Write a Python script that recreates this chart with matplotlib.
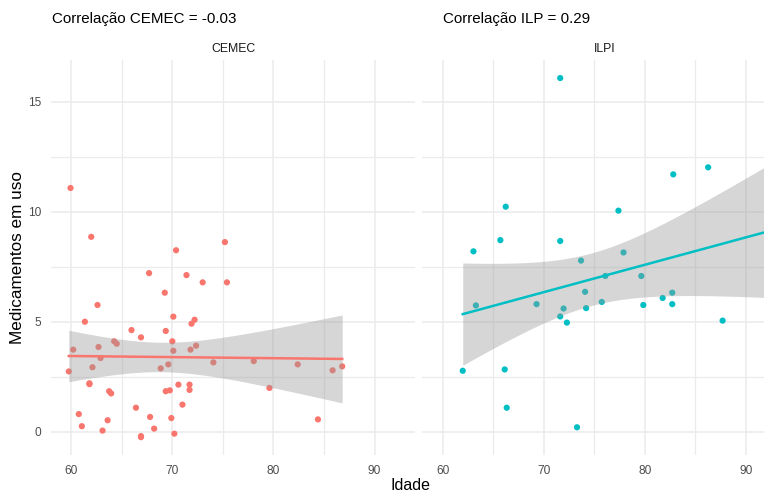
import numpy as np
import matplotlib
matplotlib.use("Agg")
import matplotlib.pyplot as plt
from matplotlib.ticker import MultipleLocator

plt.rcParams['font.family'] = ['Liberation Sans', 'DejaVu Sans']

# ---- data ----
cemec_idade = [70.37, 67.7, 71.4, 73.0, 75.4, 69.25, 62.6, 61.35, 70.1, 72.2, 71.9, 65.96,
               69.35, 66.9, 64.25, 64.5, 62.7, 60.2, 70.0, 70.1, 71.8, 72.35, 62.9, 62.1,
               59.76, 68.85, 69.6, 74.06, 61.8, 61.8, 70.6, 71.7, 71.7, 69.35, 69.75, 63.75,
               63.95, 71.0, 66.4, 60.75, 67.8, 69.9, 61.05, 63.6, 68.2, 63.1, 70.2, 66.9,
               66.9, 59.93, 61.98, 75.2, 78.05, 79.6, 82.4, 84.4, 85.85, 86.8]
cemec_med = [8.25, 7.21, 7.12, 6.79, 6.79, 6.32, 5.76, 5.0, 5.23, 5.09, 4.91, 4.62,
             4.58, 4.29, 4.11, 4.0, 3.85, 3.73, 4.11, 3.68, 3.73, 3.91, 3.35, 2.93,
             2.74, 2.88, 3.06, 3.15, 2.2, 2.16, 2.14, 2.14, 1.9, 1.84, 1.88, 1.84,
             1.74, 1.23, 1.09, 0.8, 0.67, 0.62, 0.25, 0.52, 0.14, 0.05, -0.09, -0.25,
             -0.2, 11.08, 8.86, 8.62, 3.21, 1.99, 3.06, 0.56, 2.79, 2.97]

# the last ILPI point lies beyond the cropped right edge (implied by the axis
# range and by the smoother reaching the edge); its value is estimated
ilpi_idade = [63.06, 66.25, 65.72, 71.64, 71.64, 73.7, 82.82, 86.27, 77.4, 77.9, 63.3, 69.3,
              71.97, 71.64, 72.3, 74.1, 74.2, 62.0, 66.15, 66.35, 73.3, 76.1, 79.66, 82.72,
              81.77, 82.72, 75.75, 79.86, 87.7, 92.4]
ilpi_med = [8.2, 10.23, 8.71, 16.08, 8.67, 7.78, 11.7, 12.02, 10.05, 8.15, 5.74, 5.8,
            5.6, 5.24, 4.96, 6.36, 5.62, 2.77, 2.83, 1.09, 0.2, 7.08, 7.08, 6.32,
            6.08, 5.8, 5.9, 5.76, 5.05, 10.8]

panels = ["CEMEC", "ILPI"]
titles = ["Correlação CEMEC = -0.03", "Correlação ILP = 0.29"]
colors = ["#F8766D", "#00BFC4"]
x_ticks = [60, 70, 80, 90]
y_ticks = [0, 5, 10, 15]

XLIM = (58.0, 94.0)
YLIM = (-1.06, 16.9)


def t_quantile(df):
    # 97.5% quantile of Student's t via Cornish-Fisher expansion
    z = 1.959963984540054
    g1 = (z**3 + z) / 4
    g2 = (5 * z**5 + 16 * z**3 + 3 * z) / 96
    g3 = (3 * z**7 + 19 * z**5 + 17 * z**3 - 15 * z) / 384
    return z + g1 / df + g2 / df**2 + g3 / df**3


def lm_fit(x, y, xs):
    x = np.asarray(x, float)
    y = np.asarray(y, float)
    n = len(x)
    b, a = np.polyfit(x, y, 1)
    resid = y - (a + b * x)
    s = np.sqrt(np.sum(resid**2) / (n - 2))
    sxx = np.sum((x - x.mean())**2)
    se = s * np.sqrt(1 / n + (xs - x.mean())**2 / sxx)
    t = t_quantile(n - 2)
    fit = a + b * xs
    return fit, fit - t * se, fit + t * se


W, H = 764, 492
fig = plt.figure(figsize=(W / 100, H / 100), dpi=100)

ax_specs = [(51, 364), (422.3, 364)]
data = [(cemec_idade, cemec_med), (ilpi_idade, ilpi_med)]

for i, (left, width) in enumerate(ax_specs):
    ax = fig.add_axes([left / W, 1 - 455 / H, width / W, 395 / H])
    x, y = data[i]
    ax.set_xlim(*XLIM)
    ax.set_ylim(*YLIM)
    ax.xaxis.set_major_locator(MultipleLocator(10))
    ax.xaxis.set_minor_locator(MultipleLocator(5))
    ax.yaxis.set_major_locator(MultipleLocator(5))
    ax.yaxis.set_minor_locator(MultipleLocator(2.5))
    ax.grid(which='major', color='#EBEBEB', linewidth=1.1)
    ax.grid(which='minor', color='#EBEBEB', linewidth=0.9)
    ax.set_axisbelow(True)
    for sp in ax.spines.values():
        sp.set_visible(False)
    ax.tick_params(which='both', length=0)
    ax.set_xticks(x_ticks)
    ax.set_xticklabels([str(v) for v in x_ticks], color='#4D4D4D', fontsize=8.6)
    ax.set_yticks(y_ticks)
    if i == 0:
        ax.set_yticklabels([str(v) for v in y_ticks], color='#4D4D4D', fontsize=8.6)
        ax.tick_params(axis='y', pad=7)
    else:
        ax.set_yticklabels([])
    ax.tick_params(axis='x', pad=7)

    ax.scatter(x, y, s=20, color=colors[i], edgecolors='none', zorder=2)
    xs = np.linspace(min(x), max(x), 200)
    fit, lo, hi = lm_fit(x, y, xs)
    ax.fill_between(xs, lo, hi, color='#999999', alpha=0.4, linewidth=0, zorder=3)
    ax.plot(xs, fit, color=colors[i], linewidth=1.8, zorder=4)
    ax.text(0.5, 1.012, panels[i], transform=ax.transAxes, ha='center', va='bottom',
            fontsize=8.8, color='#1A1A1A')

fig.text(52 / W, 1 - 19 / H, titles[0], ha='left', va='center', fontsize=10.9, color='#000000')
fig.text(443 / W, 1 - 19 / H, titles[1], ha='left', va='center', fontsize=10.9, color='#000000')
fig.text(18 / W, 1 - 258 / H, "Medicamentos em uso", rotation=90, ha='center', va='center',
         fontsize=12.3, color='#000000')
fig.text(410 / W, 1 - 486 / H, "Idade", ha='center', va='center', fontsize=11.5, color='#000000')

fig.savefig("out.png", dpi=100)
